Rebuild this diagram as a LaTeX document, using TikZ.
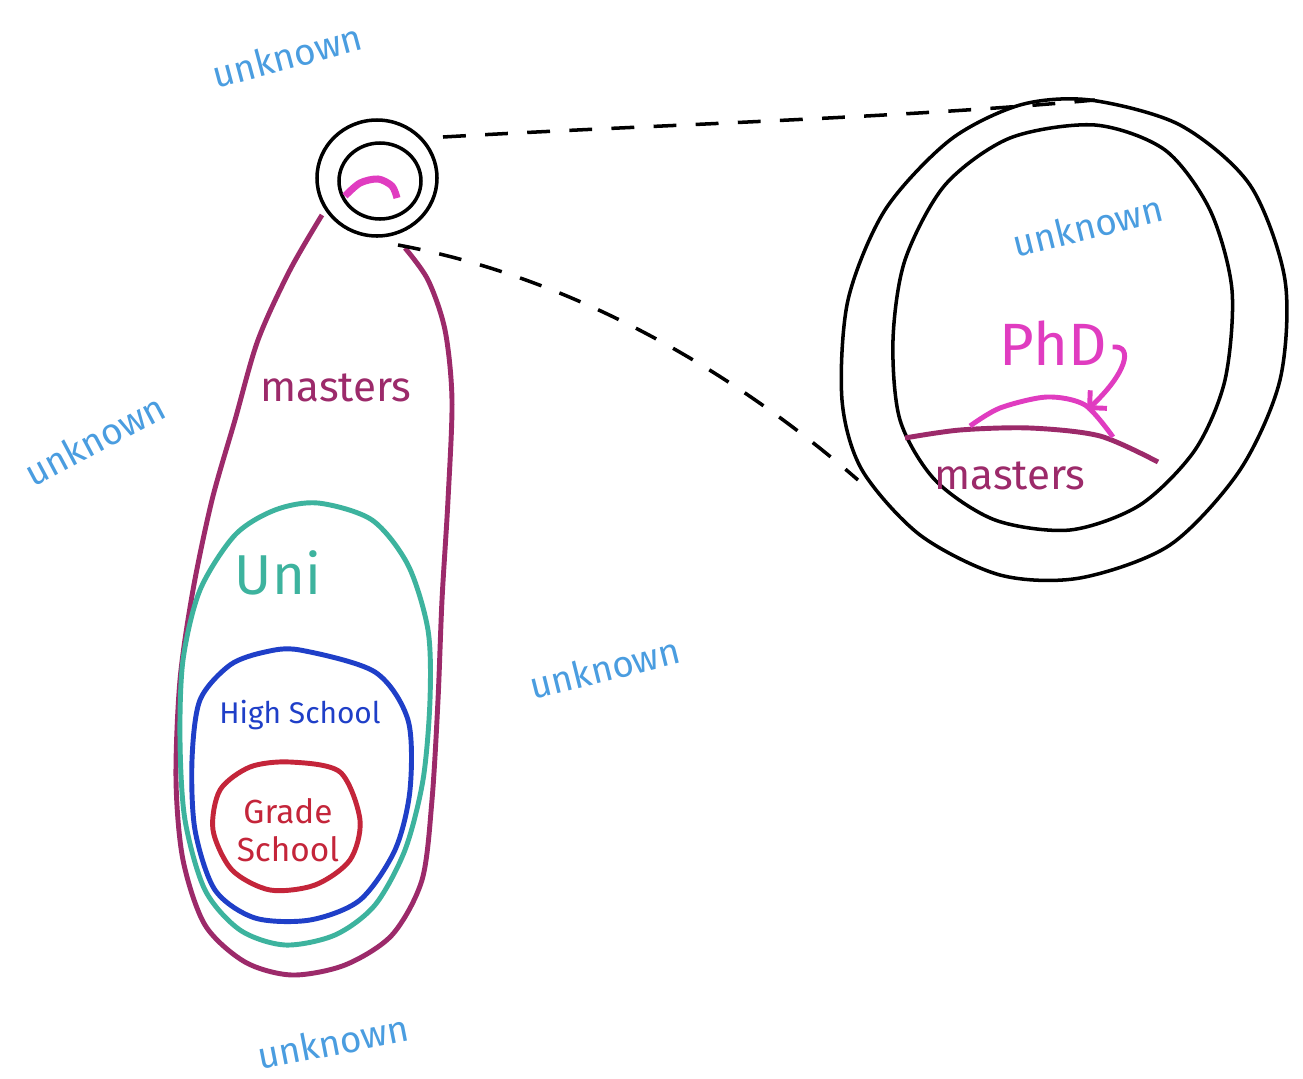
\documentclass[tikz,border=0pt]{standalone}
\usepackage{fontspec}
\setmainfont{Fira Sans}
\usetikzlibrary{arrows.meta}

\definecolor{masterscol}{HTML}{9C2A6A}
\definecolor{unicol}{HTML}{3DB39E}
\definecolor{highcol}{HTML}{1F3FC8}
\definecolor{gradecol}{HTML}{C4253A}
\definecolor{phdcol}{HTML}{E03CC0}
\definecolor{unknowncol}{HTML}{4A9DE0}

\tikzset{
    ring/.style={black, line width=2pt},
    level/.style={line width=2.8pt, line join=round},
    unknown/.style={unknowncol, font=\fontsize{21}{24}\selectfont},
    zoomline/.style={black, line width=2pt, dash pattern=on 13pt off 11pt}
}

\begin{document}
\begin{tikzpicture}[x=0.02cm, y=-0.02cm]
    % 画布大小
    \fill[white] (0,0) rectangle (1303,1079);
    \useasboundingbox (0,0) rectangle (1303,1079);

    % 小圆圈（放大前）
    \draw[ring] (377,178) ellipse [x radius=60, y radius=58];
    \draw[ring] (380,181) ellipse [x radius=41, y radius=38];
    \draw[phdcol, line width=4pt] plot[smooth] coordinates {(345,196) (360,183) (378,179) (392,186) (397,198)};

    % masters 外轮廓（顶部开口）
    \draw[level, masterscol] plot[smooth] coordinates {
        (322,215) (290,270) (258,340) (235,420) (212,500) (193,590) (180,680)
        (176,780) (183,860) (205,925) (245,962) (292,975) (345,965) (392,935)
        (422,880) (432,800) (438,700) (442,600) (448,500) (452,400) (445,330)
        (428,280) (405,248)};

    % Uni
    \draw[level, unicol] plot[smooth cycle] coordinates {
        (318,503) (372,520) (408,565) (428,630) (430,700) (423,780) (405,850)
        (375,905) (335,935) (285,945) (240,930) (205,890) (185,820) (180,740)
        (183,660) (200,590) (235,535) (275,510)};

    % High School
    \draw[level, highcol] plot[smooth cycle] coordinates {
        (300,650) (375,672) (408,720) (410,790) (395,850) (360,900) (310,920)
        (255,918) (215,890) (195,830) (192,760) (200,700) (230,665) (265,652)};

    % Grade School
    \draw[level, gradecol] plot[smooth cycle] coordinates {
        (290,762) (340,772) (360,820) (350,860) (315,885) (270,890) (232,870)
        (213,830) (220,790) (250,767)};

    % 左边的文字
    \node[masterscol, font=\fontsize{24}{28}\selectfont] (mastersleft) at (336,388) {masters};
    \node[unicol, font=\fontsize{32}{36}\selectfont] (uni) at (278,573) {Uni};
    \node[highcol, font=\fontsize{17}{20}\selectfont] (highschool) at (300,715) {High School};
    \node[gradecol, align=center, font=\fontsize{19}{22}\selectfont] (gradeschool) at (288,830) {Grade\\School};

    % 放大后的大圆圈
    \draw[ring] plot[smooth cycle] coordinates {
        (1090,100) (1180,125) (1250,185) (1285,280) (1280,380) (1240,470)
        (1170,545) (1080,578) (1000,575) (920,535) (862,470) (842,400)
        (848,300) (885,210) (950,140) (1020,105)};
    \draw[ring] plot[smooth cycle] coordinates {
        (1095,125) (1165,150) (1210,210) (1232,290) (1225,380) (1195,450)
        (1140,505) (1070,530) (995,520) (935,480) (900,420) (893,340)
        (905,260) (945,185) (1010,138)};

    % 大圆里的 masters 边界和 PhD
    \draw[level, masterscol] plot[smooth] coordinates {(905,438) (960,430) (1030,428) (1100,436) (1158,462)};
    \draw[level, phdcol] plot[smooth] coordinates {(970,426) (1000,408) (1047,397) (1085,405) (1113,437)};
    \node[masterscol, font=\fontsize{24}{28}\selectfont] (mastersright) at (1010,476) {masters};
    \node[phdcol, font=\fontsize{34}{38}\selectfont] (phd) at (1053,343) {PhD};
    \draw[level, phdcol, -{Straight Barb[length=7pt]}] (phd.east) ++(0,4) .. controls (1135,345) and (1125,375) .. (1087,410);

    % 虚线（放大）
    \coordinate (smalltop) at (443,137);
    \coordinate (smallbot) at (398,245);
    \coordinate (bigtop) at (1095,100);
    \coordinate (bigbot) at (858,480);
    \draw[zoomline] (smalltop) .. controls (650,125) and (900,118) .. (bigtop);
    \draw[zoomline] (smallbot) .. controls (560,275) and (720,360) .. (bigbot);

    % unknown
    \node[unknown, rotate=15] (unknown1) at (287,56) {unknown};
    \node[unknown, rotate=28] (unknown2) at (95,440) {unknown};
    \node[unknown, rotate=14] (unknown3) at (605,668) {unknown};
    \node[unknown, rotate=11] (unknown4) at (333,1042) {unknown};
    \node[unknown, rotate=14] (unknown5) at (1088,226) {unknown};
\end{tikzpicture}
\end{document}
